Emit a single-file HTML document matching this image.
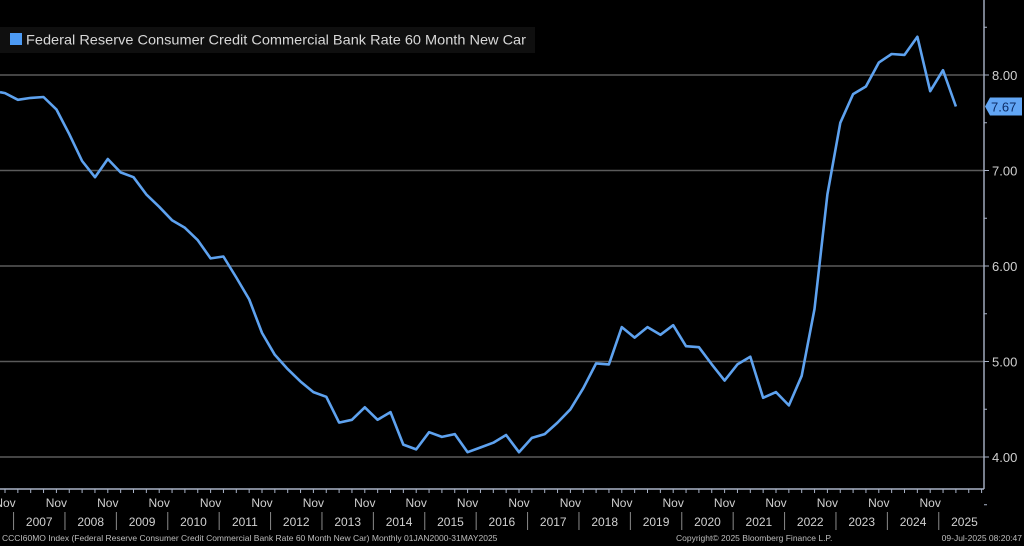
<!DOCTYPE html>
<html><head><meta charset="utf-8"><style>
html,body{margin:0;padding:0;background:#000;width:1024px;height:546px;overflow:hidden}
svg{display:block;font-family:"Liberation Sans",sans-serif}
</style></head><body>
<svg id="chart" width="1024" height="546" viewBox="0 0 1024 546">
<rect x="0" y="0" width="1024" height="546" fill="#000"/>
<g id="grid"></g>
<g id="xaxis"></g>
<g id="yaxis"></g>
<path id="line" fill="none" stroke="#5ea2ef" stroke-width="2.6" stroke-linejoin="round"/>
<g>
<rect x="0" y="27" width="535" height="26" fill="#0f0f0f"/>
<rect x="10" y="33" width="12" height="12" fill="#4d9bf5"/>
<text x="26" y="44.5" font-size="14" fill="#d8d8d8" textLength="500" lengthAdjust="spacingAndGlyphs">Federal Reserve Consumer Credit Commercial Bank Rate 60 Month New Car</text>
</g>
<g id="lastlabel"></g>
<text x="2" y="541" font-size="8.5" fill="#bdbdbd">CCCI60MO Index (Federal Reserve Consumer Credit Commercial Bank Rate 60 Month New Car)  Monthly 01JAN2000-31MAY2025</text>
<text x="676" y="541" font-size="8.5" fill="#bdbdbd">Copyright© 2025 Bloomberg Finance L.P.</text>
<text x="1022" y="541" font-size="8.5" fill="#bdbdbd" text-anchor="end">09-Jul-2025 08:20:47</text>
</svg>
<script>
const startYear = 2006; // first point = Nov 2006, quarterly
const rateValues = [7.81,7.74,7.76,7.77,7.64,7.38,7.10,6.93,7.12,6.98,6.93,6.75,6.62,6.48,6.40,6.27,6.08,6.10,5.88,5.65,5.30,5.07,4.92,4.79,4.68,4.63,4.36,4.39,4.52,4.39,4.47,4.13,4.08,4.26,4.21,4.24,4.05,4.10,4.15,4.23,4.05,4.20,4.24,4.36,4.50,4.72,4.98,4.97,5.36,5.25,5.36,5.28,5.38,5.16,5.15,4.97,4.80,4.97,5.05,4.62,4.68,4.54,4.85,5.55,6.75,7.50,7.80,7.88,8.13,8.22,8.21,8.40,7.83,8.05,7.67];
const yTicks = [4,5,6,7,8];
const yTickLabels = ["4.00","5.00","6.00","7.00","8.00"];
const yearLabels = ["2007","2008","2009","2010","2011","2012","2013","2014","2015","2016","2017","2018","2019","2020","2021","2022","2023","2024","2025"];
const lastLabel = "7.67";

const NS="http://www.w3.org/2000/svg";
const plotRight=984, axisY=489;
function xQ(i){return 5+i*12.85;}
function xYear(t){return 5+(t-2006.8333)*51.4;}
function yV(v){return 75+(8-v)*95.5;}
function mk(tag,attrs,parent){const e=document.createElementNS(NS,tag);for(const k in attrs)e.setAttribute(k,attrs[k]);parent.appendChild(e);return e;}

const grid=document.getElementById('grid'), yax=document.getElementById('yaxis'), xax=document.getElementById('xaxis');
yTicks.forEach((v,i)=>{
  const l=mk('line',{x1:0,x2:plotRight,y1:yV(v),y2:yV(v),stroke:'#5a5a5a','stroke-width':1.6},grid);
  
  
  const t=mk('text',{x:992,y:yV(v)+5,'font-size':13,fill:'#d0d0d0'},yax);
  t.textContent=yTickLabels[i];
  
  
  mk('line',{x1:plotRight,x2:plotRight+5,y1:yV(v),y2:yV(v),stroke:'#aab4c8','stroke-width':1},yax);
});
for(let v=3.5;v<=8.5;v+=0.5){mk('line',{x1:plotRight,x2:plotRight+3,y1:yV(v),y2:yV(v),stroke:'#aab4c8','stroke-width':1},yax);}
const ya=mk('line',{x1:plotRight,x2:plotRight,y1:0,y2:axisY,stroke:'#aab4c8','stroke-width':1.4},yax);


const xa=mk('line',{x1:0,x2:plotRight,y1:axisY,y2:axisY,stroke:'#aab4c8','stroke-width':1.4},xax);


for(let q=-1;q<80;q++){const x=xQ(q);if(x>=0&&x<=plotRight)mk('line',{x1:x,x2:x,y1:axisY,y2:axisY+4,stroke:'#aab4c8','stroke-width':1},xax);}
yearLabels.forEach((yl,i)=>{
  const y=+yl;
  const nx=xYear(y-1+10/12);
  const t=mk('text',{x:nx,y:507,'font-size':12,fill:'#d0d0d0','text-anchor':'middle'},xax);
  t.textContent='Nov';
  
  
  const sx=xYear(y);
  mk('line',{x1:sx,x2:sx,y1:512,y2:530,stroke:'#8a8a8a','stroke-width':1},xax);
  const t2=mk('text',{x:xYear(y+0.5),y:526,'font-size':12,fill:'#d0d0d0','text-anchor':'middle'},xax);
  t2.textContent=yl;
  
  
});
let d='';
rateValues.forEach((v,i)=>{d+=(i?'L':'M')+xQ(i).toFixed(1)+','+yV(v).toFixed(1);});
d='M0,'+yV(rateValues[0]+0.01).toFixed(1)+d.replace(/^M/,'L');
document.getElementById('line').setAttribute('d',d);
const lg=document.getElementById('lastlabel');
const ly=yV(rateValues[rateValues.length-1]);
const p=mk('path',{d:`M${plotRight+1},${ly} L${plotRight+6},${ly-9} L1022,${ly-9} L1022,${ly+9} L${plotRight+6},${ly+9} Z`,fill:'#62a6f5'},lg);


const lt=mk('text',{x:991,y:ly+5,'font-size':13,fill:'#0c2c66'},lg);
lt.textContent=lastLabel;


</script>
</body></html>
